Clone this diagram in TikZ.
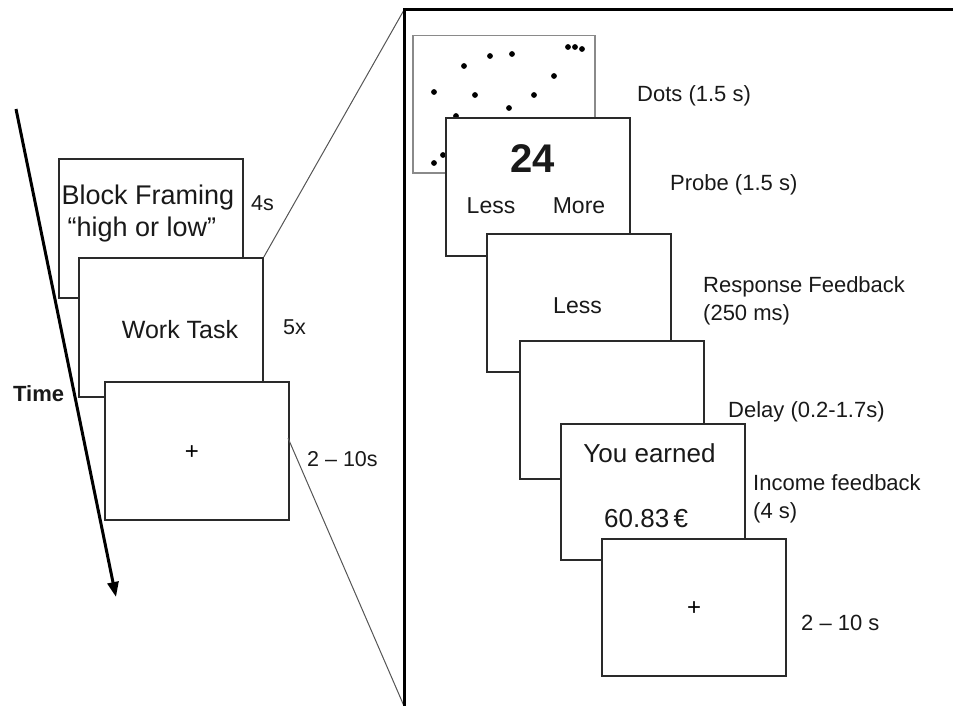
\documentclass[tikz,border=0pt]{standalone}
\usepackage{fontspec}
\setmainfont{Liberation Sans}
\usetikzlibrary{arrows.meta}
\newcommand\myfs[1]{\fontsize{#1}{#1}\selectfont}
\definecolor{edge}{HTML}{2A2A2A}
\definecolor{dotsedge}{HTML}{8A8A8A}
\definecolor{zoomline}{HTML}{555555}
\tikzset{
  scr/.style={draw=edge, line width=1.8pt, fill=white, minimum width=184pt,
    minimum height=138pt, inner sep=0pt, anchor=north west},
  dotsbox/.style={draw=dotsedge, line width=1.5pt, fill=white, minimum width=182pt,
    minimum height=137pt, inner sep=0pt, anchor=north west},
  lbl/.style={inner sep=0pt, anchor=base west, text=black!90},
  ctr/.style={inner sep=0pt, anchor=base, text=black!90},
  zoomln/.style={draw=zoomline, line width=1pt},
  frameln/.style={draw=black, line width=3pt},
  timeln/.style={draw=black, line width=3pt, -{Triangle[length=15pt,width=11pt]}},
  dot/.style={fill=black}
}
\begin{document}
\begin{tikzpicture}[x=1pt,y=-1pt]
\useasboundingbox (0,0) rectangle (953,706);

% ---------- left panel ----------
\node[scr, minimum height=139pt] (bf) at (58,158) {};
\node[scr, minimum height=139pt] (wt) at (78,257) {};
\node[scr] (lp) at (104,381) {};

\coordinate (tstart) at (16,109);
\coordinate (tend) at (116,597);
\draw[timeln] (tstart) -- (tend);

\node[ctr] (tbf) at (148,204) {\myfs{27}Block Framing};
\node[ctr] (thl) at (142,236) {\myfs{27}“high or low”};
\node[ctr] (twt) at (180,338) {\myfs{25}Work Task};
\node[inner sep=0pt] (tlp) at (192,453) {\myfs{24}+};

\node[lbl] (d4s) at (251,210) {\myfs{21.5}4s};
\node[lbl] (d5x) at (283,334) {\myfs{21.5}5x};
\node[lbl] (d210) at (307,466) {\myfs{21.5}2 – 10s};
\node[lbl, font=\bfseries] (time) at (13,401) {\myfs{22}Time};

% ---------- zoom connectors ----------
\coordinate (ftop) at (404,10);
\coordinate (fbot) at (404,706);
\coordinate (fright) at (956,10);
\coordinate (zlow) at (288,438);
\draw[zoomln] (wt.north east) -- (ftop);
\draw[zoomln] (zlow) -- (fbot);
\draw[frameln] (fbot) -- (ftop) -- (fright);

% ---------- right panel ----------
\node[dotsbox] (dots) at (412,35) {};
\foreach \p in {(490,56),(512,54),(464,66),(568,47),(575,47),(582,49),(554,76),
  (434,92),(475,95),(534,95),(509,108),(456,116),(434,163),(443,155)}
  \fill[dot] \p circle (2.9pt);

\node[scr] (probe) at (445,117) {};
\node[scr] (resp) at (486,233) {};
\node[scr] (delay) at (519,340) {};
\node[scr, minimum height=136pt] (earn) at (560,423) {};
\node[scr, minimum height=137pt] (rp) at (601,538) {};

\node[ctr, font=\bfseries] (t24) at (532.5,172) {\myfs{40}24};
\node[ctr] (tless1) at (491,213) {\myfs{23}Less};
\node[ctr] (tmore) at (579,213) {\myfs{23}More};
\node[ctr] (tless2) at (577.5,313) {\myfs{23}Less};
\node[ctr] (tearn) at (649.5,462) {\myfs{26}You earned};
\node[lbl] (tamt) at (604,527) {\myfs{26}60.83\,€};
\node[inner sep=0pt] (trp) at (694,609) {\myfs{24}+};

\node[lbl] (ldots) at (637,102) {\myfs{22}Dots (1.5 s)};
\node[lbl] (lprobe) at (670,190) {\myfs{22}Probe (1.5 s)};
\node[lbl] (lresp1) at (703,292) {\myfs{22}Response Feedback};
\node[lbl] (lresp2) at (703,320) {\myfs{22}(250 ms)};
\node[lbl] (ldelay) at (728,417) {\myfs{22}Delay (0.2-1.7s)};
\node[lbl] (linc1) at (753,490) {\myfs{22}Income feedback};
\node[lbl] (linc2) at (753,518) {\myfs{22}(4 s)};
\node[lbl] (lrp) at (801,630) {\myfs{22}2 – 10 s};
\end{tikzpicture}
\end{document}
